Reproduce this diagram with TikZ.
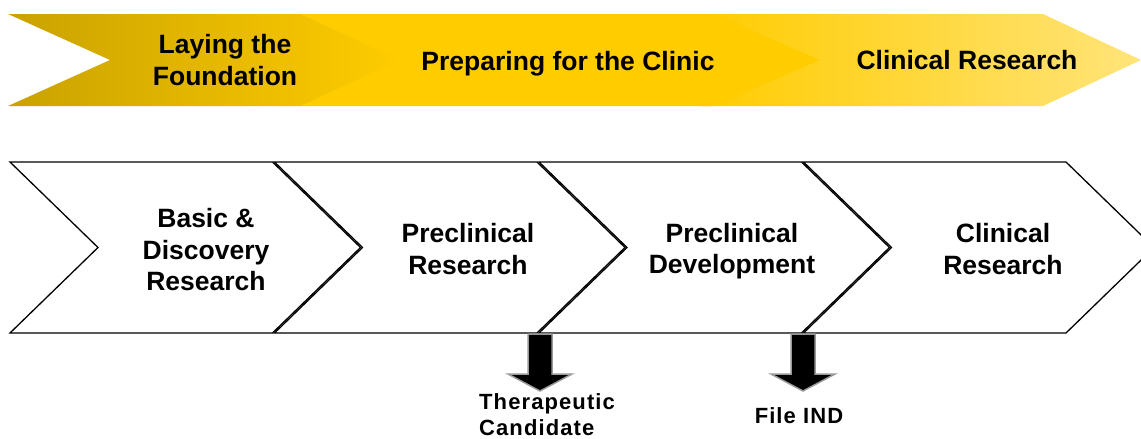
\documentclass[tikz,border=0pt]{standalone}
\usepackage{fontspec}
\setmainfont{Liberation Sans}
\newfontfamily\spacedfont[LetterSpace=5]{Liberation Sans}
\usetikzlibrary{calc,positioning}
\definecolor{darkgold}{RGB}{201,162,0}
\definecolor{gold}{RGB}{255,204,0}
\definecolor{palegold}{RGB}{255,228,122}
\tikzset{
  phase/.style={font=\fontsize{26.5}{31.5}\selectfont\bfseries, align=center, inner sep=0pt},
  stage/.style={draw=black, line width=1.3pt, fill=white, line join=miter},
  milestone/.style={font=\spacedfont\fontsize{22}{26}\selectfont\bfseries, inner sep=0pt},
  blockarrow/.style={fill=black, draw=black!40, line width=1.5pt}
}

\begin{document}
\begin{tikzpicture}[x=1pt, y=-1pt]
  \useasboundingbox (0,0) rectangle (1141,439);
  \clip (0,0) rectangle (1141,439);

  \shade[left color=gold, right color=palegold] (700,14) -- (1043,14) -- (1141,60) -- (1043,106) -- (700,106) -- cycle;
  \fill[gold] (300,14) -- (713,14) -- (820,60) -- (713,106) -- (300,106) -- cycle;
  \shade[left color=darkgold, right color=gold] (8,14) -- (300,14) -- (400,60) -- (300,106) -- (8,106) -- (110,60) -- cycle;

  \node[phase] (found) at (225,60) {Laying the\\Foundation};
  \node[phase] (clinic) at (568,64) {Preparing for the Clinic};
  \node[phase] (clinres) at (967,60) {Clinical Research};

  \foreach \x in {10,274.5,539,803.5}
    \draw[stage] (\x,162) -- ++(262.5,0) -- ++(88,85.5) -- ++(-88,85.5) -- ++(-262.5,0) -- ++(88,-85.5) -- cycle;

  \node[phase] (basic) at (206,250) {Basic \&\\Discovery\\Research};
  \node[phase] (precres) at (468,249) {Preclinical\\Research};
  \node[phase] (precdev) at (732,251) {Preclinical\\Development};
  \node[phase] (clinical) at (1003,249) {Clinical\\Research};

  \coordinate (cand) at (540,334);
  \coordinate (ind) at (803,334);
  \draw[blockarrow, shift={(cand)}] (-12,0) -- (12,0) -- (12,40) -- (32,40) -- (0,57) -- (-32,40) -- (-12,40) -- cycle;
  \draw[blockarrow, shift={(ind)}] (-12,0) -- (12,0) -- (12,40) -- (32,40) -- (0,57) -- (-32,40) -- (-12,40) -- cycle;

  \node[milestone, align=left, anchor=north west] (candlabel) at (479,393) {Therapeutic\\Candidate};
  \node[milestone] (indlabel) at (799,416) {File IND};

\end{tikzpicture}
\end{document}
